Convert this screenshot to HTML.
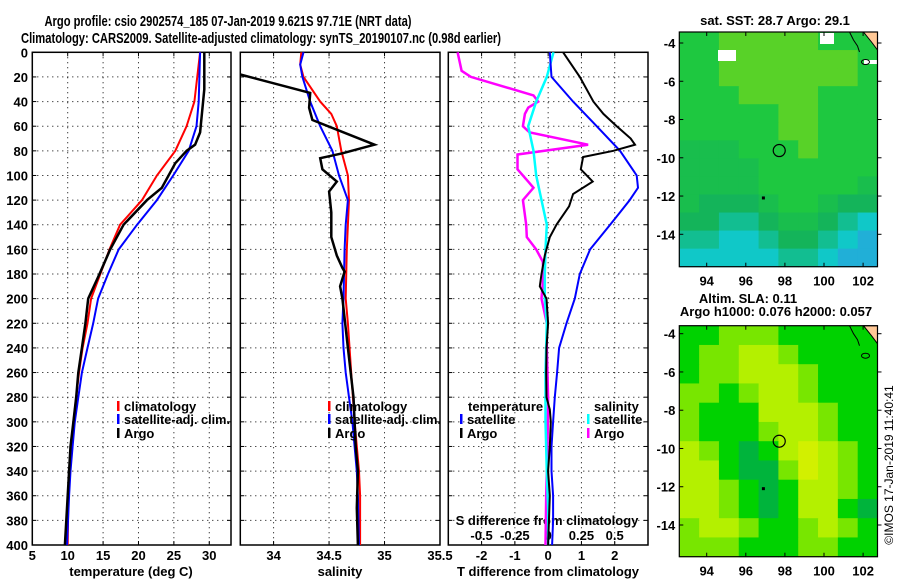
<!DOCTYPE html>
<html><head><meta charset="utf-8"><style>
html,body{margin:0;padding:0;background:#fff;}
svg text{font-family:"Liberation Sans",Arial,sans-serif;font-weight:bold;font-size:13px;fill:#000;}
</style></head><body>
<svg id="fig" width="900" height="580" viewBox="0 0 900 580" xmlns="http://www.w3.org/2000/svg">
<text x="228" y="26" text-anchor="middle" style="font-size:15px" textLength="367" lengthAdjust="spacingAndGlyphs">Argo profile: csio 2902574_185 07-Jan-2019 9.621S 97.71E (NRT data)</text>
<text x="261" y="43" text-anchor="middle" style="font-size:15px" textLength="480" lengthAdjust="spacingAndGlyphs">Climatology: CARS2009. Satellite-adjusted climatology: synTS_20190107.nc (0.98d earlier)</text>
<g id="plots"></g>
<g id="maps"></g>
<text transform="translate(893,465) rotate(-90)" text-anchor="middle" style="font-weight:normal;font-size:12px">©IMOS 17-Jan-2019 11:40:41</text>
</svg>
<script>
// ---------- data ----------
const depthTicks=[0,20,40,60,80,100,120,140,160,180,200,220,240,260,280,300,320,340,360,380,400];
const tempTicks=[5,10,15,20,25,30];
const salTicks=[34,34.5,35,35.5];
const diffTicks=[-2,-1,0,1,2];
const sdiffTicks=[-0.5,-0.25,0,0.25,0.5];
const sdiffLabels=["-0.5","-0.25","0","0.25","0.5"];

const tClimD=[0,40,60,80,100,120,140,160,180,200,220,240,260,280,300,320,340,360,400];
const tClimV=[28.7,27.9,26.8,25.2,22.6,20.5,17.4,15.9,14.6,13.3,12.8,12.1,11.6,11.2,10.8,10.5,10.2,10.1,10.0];
const tSatD=[0,20,40,60,80,100,120,140,160,180,200,220,240,260,280,300,320,340,360,380,400];
const tSatV=[28.7,28.6,28.5,28.2,27.1,24.9,22.6,19.8,17.2,15.7,14.3,13.6,12.8,12.0,11.5,11.0,10.7,10.4,10.2,10.05,9.9];
const tArgoD=[0,30,65,75,80,90,110,120,140,160,180,185,200,220,240,260,280,300,320,340,360,380,400];
const tArgoV=[29.3,29.3,28.7,28.0,26.8,25.2,23.3,21.2,17.9,16.0,14.5,14.1,12.9,12.5,12.0,11.5,11.2,10.8,10.4,10.2,10.0,9.8,9.6];

const sClimD=[0,10,20,40,50,60,80,100,120,140,160,200,220,260,300,340,360,400];
const sClimV=[34.25,34.24,34.27,34.42,34.52,34.57,34.61,34.67,34.68,34.67,34.66,34.65,34.67,34.70,34.73,34.77,34.78,34.78];
const sSatD=[0,10,20,40,60,80,100,120,140,160,200,220,240,260,280,300,320,340,360,400];
const sSatV=[34.27,34.24,34.26,34.33,34.42,34.53,34.59,34.67,34.65,34.64,34.63,34.62,34.63,34.65,34.68,34.71,34.73,34.75,34.76,34.77];
const sArgoD=[18,33,45,55,75,82,86,95,105,113,130,150,165,175,178,190,200,240,280,320,340,370,400];
const sArgoV=[33.70,34.33,34.32,34.35,34.91,34.62,34.42,34.44,34.57,34.50,34.52,34.52,34.57,34.62,34.64,34.60,34.62,34.67,34.72,34.74,34.76,34.75,34.76];

const dtSatD=[0,20,40,60,80,100,110,120,130,140,160,180,200,220,240,260,280,300,320,340,360,380,400];
const dtSatV=[0.05,0.1,0.75,1.46,2.16,2.66,2.7,2.45,2.16,1.86,1.26,0.95,0.8,0.55,0.33,0.27,0.2,0.15,0.1,0.1,0.15,0.15,0.12];
const dtArgoD=[0,20,40,50,60,70,75,80,85,95,105,115,125,140,150,165,180,190,200,220,240,260,280,290,300,320,340,360,400];
const dtArgoV=[0.45,0.95,1.36,1.66,2.06,2.48,2.61,1.96,1.05,0.98,1.34,0.75,0.63,0.25,0.05,-0.1,-0.2,-0.25,-0.05,0.0,-0.05,-0.06,-0.05,0.05,0.08,0.05,0.0,0.05,0.0];
const dsArgoD=[0,15,20,35,40,45,50,60,65,75,83,95,105,110,120,140,150,160,170,180,200,220,240,280,320,360,400];
const dsArgoV=[-0.68,-0.65,-0.58,-0.11,-0.075,-0.15,-0.175,-0.19,-0.14,0.30,-0.23,-0.23,-0.15,-0.11,-0.19,-0.165,-0.16,-0.09,-0.04,-0.035,-0.05,-0.01,-0.01,0.0,-0.005,-0.015,-0.02];
const dsSatD=[0,20,40,60,80,100,120,140,160,180,200,220,260,300,340,370,400];
const dsSatV=[0.04,-0.01,-0.09,-0.15,-0.11,-0.09,-0.05,-0.01,-0.02,-0.025,-0.025,-0.01,-0.02,-0.02,-0.01,0.0,0.0];

const lonTicks=[94,96,98,100,102];
const latTicks=[-4,-6,-8,-10,-12,-14];
const sstGrid=[
[3,3,4,4,4,4,4,3,3,3],
[3,3,4,4,4,4,4,4,4,3],
[3,3,4,4,4,4,4,4,4,3],
[3,3,3,4,4,4,4,3,3,3],
[3,3,3,3,3,4,4,3,3,3],
[3,3,3,3,3,4,4,3,3,3],
[2.5,2.5,2.5,3,3,3,4,3,3,3],
[2.5,2.5,2.5,2.5,3,3,3,3,3,3],
[2.5,2.5,2.5,2.5,3,3,3,3,3,2.5],
[2.5,2,2,2,2.5,3,3,2.5,2,2],
[2,2,1.5,1.5,2,2.5,2.5,2,1.5,1],
[1.5,1.5,1,1,1.5,2,2,1.5,1,0.5],
[1,1,1,1,1,1.5,1.5,1,0.5,0.5]];
const slaGrid=[
[1,1,2,2,2,1,1,1,1,1],
[1,2,2,3,3,2,1,1,1,1],
[1,2,2,3,3,3,2,1,1,1],
[2,2,1,2,3,3,2,1,1,1],
[2,1,1,1,3,3,3,2,1,1],
[2,1,1,1,2,3,3,2,1,1],
[3,2,1,0,1,3,4,3,2,1],
[3,3,1,0,0,2,4,3,2,1],
[3,3,2,1,0,1,3,3,2,1],
[3,3,2,1,0,1,3,3,1,0],
[2,3,3,2,1,1,2,3,2,1],
[2,2,2,1,1,1,2,2,1,1]];
const argoLon=97.71, argoLat=-9.621;

// ---------- drawing ----------
const NS='http://www.w3.org/2000/svg';
function mk(tag,attrs,parent){const e=document.createElementNS(NS,tag);for(const k in attrs)e.setAttribute(k,attrs[k]);parent.appendChild(e);return e;}
const plots=document.getElementById('plots');
const top0=52.3, bot0=545;
const yD=d=>top0+d*(bot0-top0)/400;

const panels=[
 {x0:32.3,x1:231,v0:5,v1:33.07,name:'temperature-panel'},
 {x0:240.3,x1:440,v0:33.7,v1:35.5,name:'salinity-panel'},
 {x0:448.3,x1:648,v0:-3,v1:3,name:'difference-panel'}];
function sx(p,v){return p.x0+(v-p.v0)*(p.x1-p.x0)/(p.v1-p.v0);}

panels.forEach((p,i)=>{
  const g=mk('g',{},plots);
  
  
  depthTicks.forEach(d=>{
    if(d>0&&d<400){const l=mk('line',{x1:p.x0,x2:p.x1,y1:yD(d),y2:yD(d),stroke:'#000','stroke-width':1,'stroke-dasharray':'1,4'},g);
    }
    mk('line',{x1:p.x0,x2:p.x0+4,y1:yD(d),y2:yD(d),stroke:'#000'},g);
    mk('line',{x1:p.x1-4,x2:p.x1,y1:yD(d),y2:yD(d),stroke:'#000'},g);
  });
  const ticks=i==0?tempTicks:i==1?salTicks:diffTicks;
  ticks.forEach(v=>{
    const x=sx(p,v);
    if(x>p.x0+1&&x<p.x1-1){const l=mk('line',{x1:x,x2:x,y1:top0,y2:bot0,stroke:'#000','stroke-width':1,'stroke-dasharray':'1,4'},g);
    }
    mk('line',{x1:x,x2:x,y1:bot0,y2:bot0-4,stroke:'#000'},g);
    mk('line',{x1:x,x2:x,y1:top0,y2:top0+4,stroke:'#000'},g);
    const t=mk('text',{x:x,y:560,'text-anchor':'middle'},g);t.textContent=String(v);
    
  });
  const r=mk('rect',{x:p.x0,y:top0,width:p.x1-p.x0,height:bot0-top0,fill:'none',stroke:'#000','stroke-width':1.5},g);
  
});
depthTicks.forEach(d=>{const t=mk('text',{x:28,y:yD(d)+5,'text-anchor':'end'},plots);t.textContent=String(d);
});
[['temperature (deg C)',131,'temperature-axis-title'],['salinity',340,'salinity-axis-title'],['T difference from climatology',548,'t-diff-axis-title']].forEach(a=>{
 const t=mk('text',{x:a[1],y:576,'text-anchor':'middle'},plots);t.textContent=a[0];
 });
{const t=mk('text',{x:547,y:525,'text-anchor':'middle'},plots);t.textContent='S difference from climatology';

sdiffTicks.forEach((v,k)=>{const tt=mk('text',{x:sx(panels[2],v*4),y:540,'text-anchor':'middle'},plots);tt.textContent=sdiffLabels[k];
});}

function line(p,D,V,color,w,name,scale){
  const pts=D.map((d,k)=>sx(p,V[k]*(scale||1)).toFixed(1)+','+yD(d).toFixed(1)).join(' ');
  const e=mk('polyline',{points:pts,fill:'none',stroke:color,'stroke-width':w,'stroke-linejoin':'miter'},plots);
  
}
const [P1,P2,P3]=panels;
line(P1,tClimD,tClimV,'#f00',2,'temperature-climatology-line');
line(P1,tSatD,tSatV,'#00f',2,'temperature-satellite-line');
line(P1,tArgoD,tArgoV,'#000',2.5,'temperature-argo-line');
line(P2,sClimD,sClimV,'#f00',2,'salinity-climatology-line');
line(P2,sSatD,sSatV,'#00f',2,'salinity-satellite-line');
line(P2,sArgoD,sArgoV,'#000',2.5,'salinity-argo-line');
line(P3,dsArgoD,dsArgoV,'#f0f',2.5,'s-diff-argo-line',4);
line(P3,dsSatD,dsSatV,'#0ff',2.5,'s-diff-satellite-line',4);
line(P3,dtSatD,dtSatV,'#00f',2,'t-diff-satellite-line');
line(P3,dtArgoD,dtArgoV,'#000',2,'t-diff-argo-line');

function legend(x,y,color,label,name,len){
  const g=mk('g',{},plots);
  if(color)mk('rect',{x:x,y:y-10,width:2.5,height:10,fill:color},g);
  const a={x:x+7,y:y};if(len){a.textLength=len;a.lengthAdjust='spacingAndGlyphs';}
  const t=mk('text',a,g);t.textContent=label;
}
legend(117,411,'#f00','climatology','legend-temp-climatology');
legend(117,424,'#00f','satellite-adj. clim.','legend-temp-satellite',106);
legend(117,438,'#000','Argo','legend-temp-argo');
legend(328,411,'#f00','climatology','legend-sal-climatology');
legend(328,424,'#00f','satellite-adj. clim.','legend-sal-satellite',106);
legend(328,438,'#000','Argo','legend-sal-argo');
legend(461,411,null,'temperature','legend-temperature-heading');
legend(460,424,'#00f','satellite','legend-tdiff-satellite');
legend(460,438,'#000','Argo','legend-tdiff-argo');
legend(587,411,null,'salinity','legend-salinity-heading');
legend(587,424,'#0ff','satellite','legend-sdiff-satellite');
legend(587,438,'#f0f','Argo','legend-sdiff-argo');

// ---------- maps ----------
const maps=document.getElementById('maps');
const sstCols=['#3296e6','#10c8c8','#14b45a','#1ec840','#58d228'];
const slaCols=['#00b43c','#00d200','#78e600','#b4f000','#d2f000'];
function lerp(a,b,t){const pa=[1,3,5].map(i=>parseInt(a.substr(i,2),16)),pb=[1,3,5].map(i=>parseInt(b.substr(i,2),16));
 return 'rgb('+pa.map((v,i)=>Math.round(v+(pb[i]-v)*t)).join(',')+')';}
function cmap(cols,v){const i=Math.min(Math.floor(v),cols.length-2);return lerp(cols[i],cols[i+1],v-i);}
function drawMap(cfg){
  const g=mk('g',{},maps);
  const lx=lon=>cfg.x0+(lon-94)*19.55+27.4;
  const ly=lat=>cfg.y4+(-4-lat)*19.13;
  const rows=cfg.grid.length, cols=cfg.grid[0].length;
  const cw=(cfg.x1-cfg.x0)/cols, ch=(cfg.y1-cfg.y0)/rows;
  cfg.grid.forEach((row,r)=>row.forEach((v,c)=>{
    const e=mk('rect',{x:cfg.x0+c*cw,y:cfg.y0+r*ch,width:cw+0.5,height:ch+0.5,fill:cmap(cfg.cols,v)},g);
    
  }));
  if(cfg.white){cfg.white.forEach(w=>mk('rect',{x:w[0],y:w[1],width:w[2],height:w[3],fill:'#fff'},g));}
  const land=mk('polygon',{points:`${cfg.x1-14},${cfg.y0} ${cfg.x1},${cfg.y0} ${cfg.x1},${cfg.y0+18} ${cfg.x1-6},${cfg.y0+10}`,fill:'#ffc896',stroke:'#000','stroke-width':1},g);
  
  mk('polyline',{points:`${cfg.x1-28},${cfg.y0} ${cfg.x1-24},${cfg.y0+8} ${cfg.x1-20},${cfg.y0+14} ${cfg.x1-18},${cfg.y0+20}`,fill:'none',stroke:'#000','stroke-width':1},g);
  mk('ellipse',{cx:cfg.x1-12,cy:cfg.y0+30,rx:4,ry:2.5,fill:'none',stroke:'#000','stroke-width':1},g);
  const c=mk('circle',{cx:lx(argoLon),cy:ly(argoLat),r:6,fill:'none',stroke:'#000','stroke-width':1.2},g);
  
  mk('rect',{x:lx(96.9)-1.5,y:ly(-12.1)-1.5,width:3,height:3,fill:'#000'},g);
  mk('rect',{x:cfg.x0,y:cfg.y0,width:cfg.x1-cfg.x0,height:cfg.y1-cfg.y0,fill:'none',stroke:'#000','stroke-width':1.2},g);
  lonTicks.forEach(lon=>{const x=lx(lon);
    mk('line',{x1:x,x2:x,y1:cfg.y1,y2:cfg.y1-4,stroke:'#000'},g);
    mk('line',{x1:x,x2:x,y1:cfg.y0,y2:cfg.y0+4,stroke:'#000'},g);
    const t=mk('text',{x:x,y:cfg.y1+19,'text-anchor':'middle'},g);t.textContent=String(lon);
    });
  latTicks.forEach(lat=>{const y=ly(lat);
    mk('line',{x1:cfg.x0,x2:cfg.x0+4,y1:y,y2:y,stroke:'#000'},g);
    mk('line',{x1:cfg.x1,x2:cfg.x1+4,y1:y,y2:y,stroke:'#000'},g);
    const t=mk('text',{x:cfg.x0-4,y:y+5,'text-anchor':'end'},g);t.textContent=String(lat);
    });
}
drawMap({name:'sst-map',grid:sstGrid,cols:sstCols,x0:679.3,x1:877.5,y0:32,y1:266.7,y4:43,
  white:[[718,50,18,11],[820,33,14,11],[864,60,13,4]]});
drawMap({name:'sla-map',grid:slaGrid,cols:slaCols,x0:679.3,x1:877.5,y0:325.7,y1:556.7,y4:333.7});
[['sat. SST: 28.7 Argo: 29.1',775,25,'sst-map-title'],['Altim. SLA: 0.11',748,303,'sla-map-title'],['Argo h1000: 0.076 h2000: 0.057',776,316,'sla-map-subtitle']].forEach(a=>{
 const t=mk('text',{x:a[1],y:a[2],'text-anchor':'middle'},maps);t.textContent=a[0];
 });
</script>
</body></html>
